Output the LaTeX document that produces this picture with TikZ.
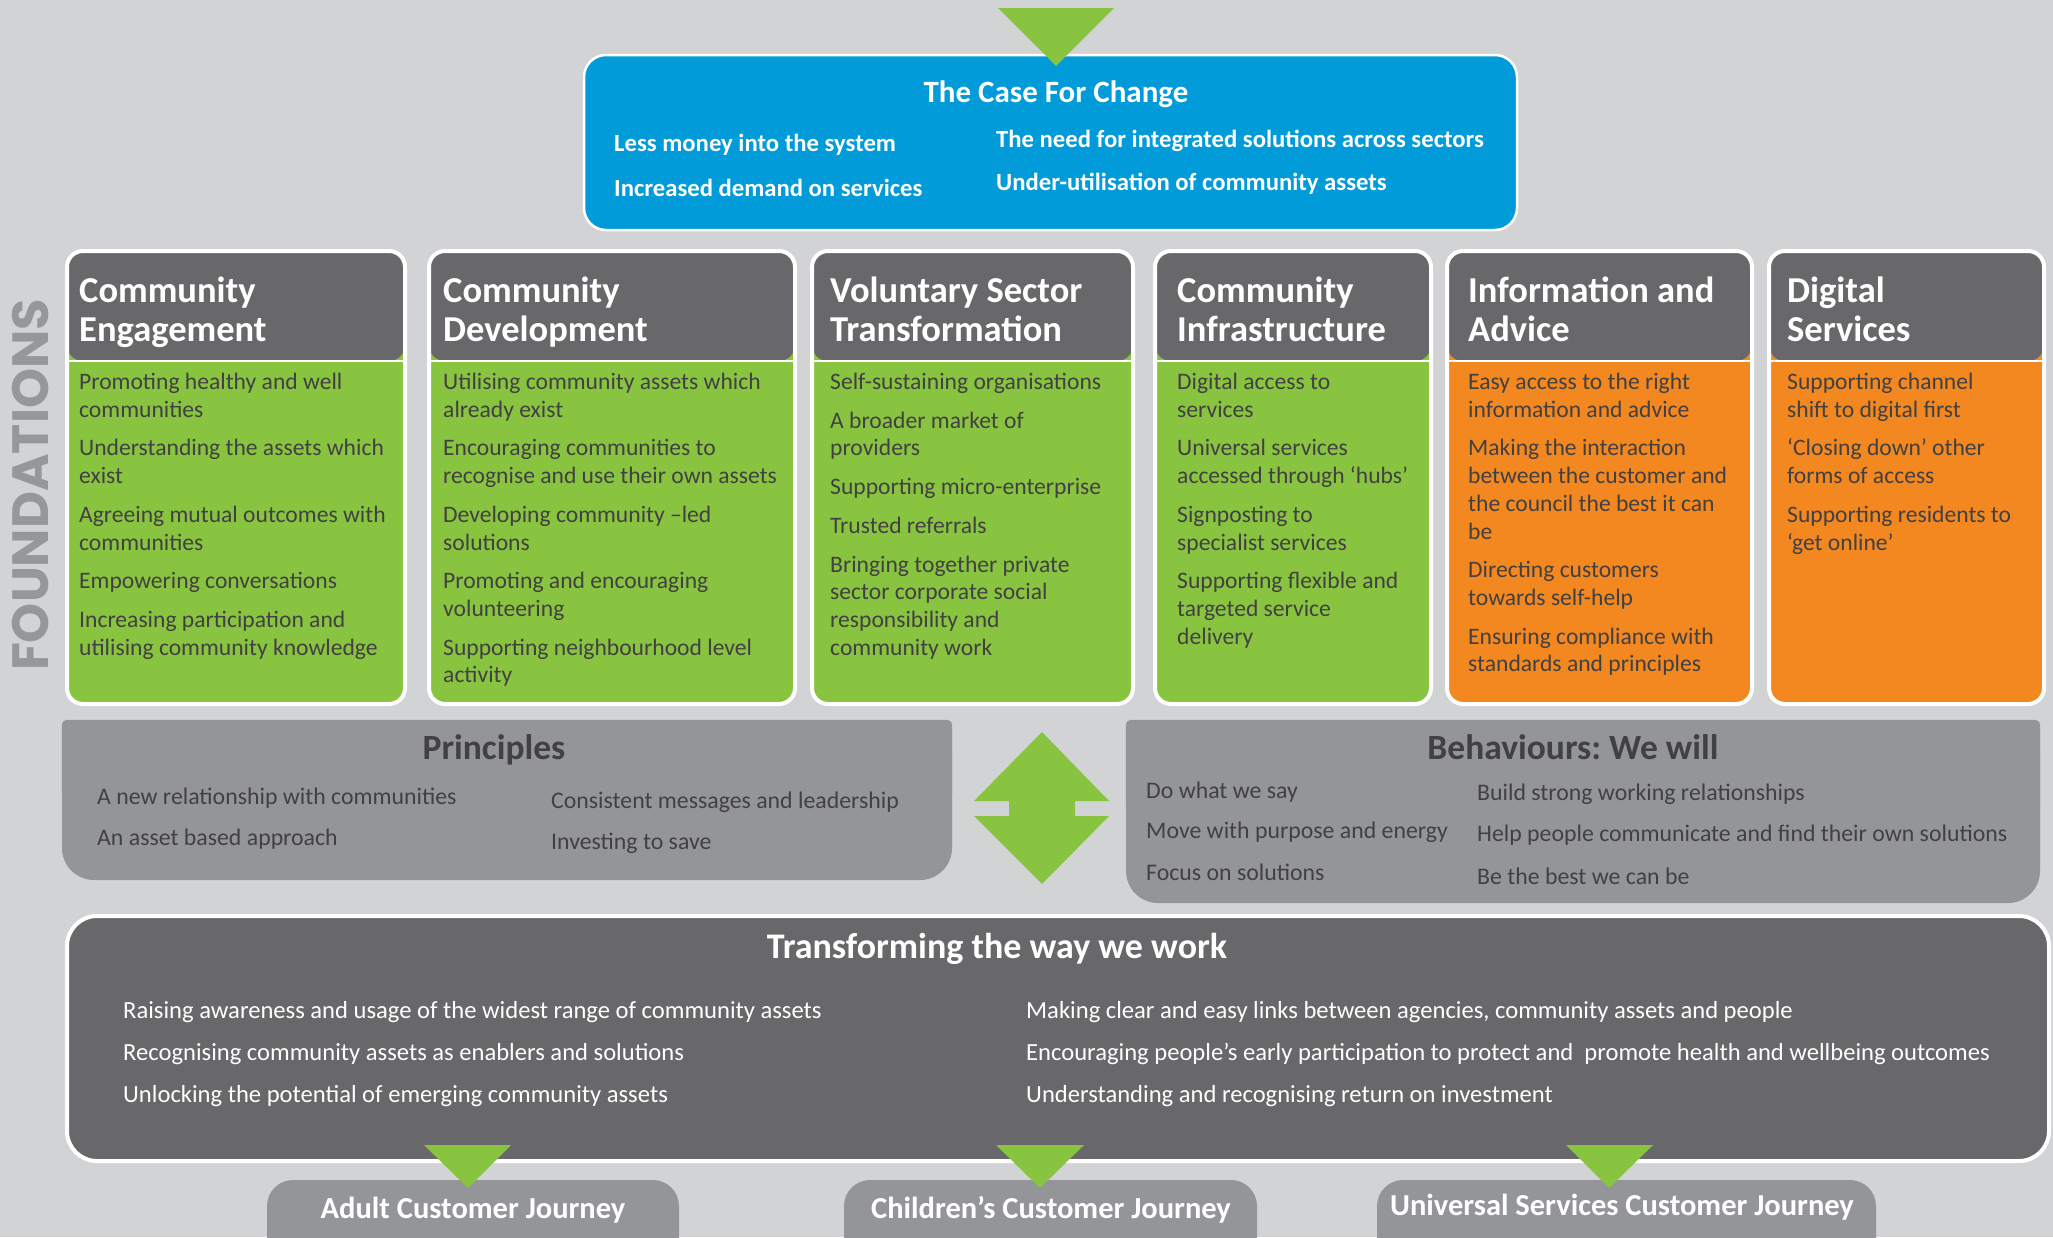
\documentclass[tikz,border=0pt]{standalone}
\usepackage{fontspec}
\setmainfont{Carlito}
\newfontfamily\foundfont{Poppins}
\usepackage{xcolor}
\usepackage{tikz}
\definecolor{bgGray}{RGB}{209,211,212}
\definecolor{caseBlue}{RGB}{0,155,216}
\definecolor{leafGreen}{RGB}{137,196,64}
\definecolor{adviceOrange}{RGB}{243,135,32}
\definecolor{headGray}{RGB}{104,104,106}
\definecolor{panelGray}{RGB}{148,149,153}
\definecolor{inkGray}{RGB}{65,64,66}
\definecolor{foundGray}{RGB}{150,151,154}

\begin{document}
\begin{tikzpicture}[x=1pt, y=-1pt,
    colbox/.style={rectangle, rounded corners=16pt, draw=white, line width=4pt, minimum height=453pt, inner sep=0,
        path picture={\fill[headGray] (path picture bounding box.north west) rectangle ([yshift=-110pt]path picture bounding box.north east);
            \draw[white, line width=2.5pt] ([yshift=-110pt]path picture bounding box.north west) -- ([yshift=-110pt]path picture bounding box.north east);}},
    headtext/.style={anchor=north west, inner sep=0, align=left, text=white, font=\fontsize{36.5}{39}\selectfont\bfseries},
    itemtext/.style={anchor=north west, inner sep=0, align=left, text=inkGray, font=\fontsize{23.6}{27.7}\selectfont},
    casetext/.style={anchor=west, inner sep=0, text=white, font=\fontsize{24.7}{28}\selectfont\bfseries},
    paneltitle/.style={inner sep=0, font=\fontsize{35.5}{40}\selectfont\bfseries},
    paneltext/.style={anchor=west, inner sep=0, text=inkGray, font=\fontsize{23.8}{27}\selectfont},
    worktext/.style={anchor=west, inner sep=0, text=white, font=\fontsize{24.6}{28}\selectfont},
    journeybox/.style={rectangle, rounded corners=26pt, fill=panelGray, minimum height=120pt, inner sep=0},
    journeytext/.style={inner sep=0, text=white, font=\fontsize{30.5}{34}\selectfont\bfseries},
    pointer/.style={fill=leafGreen}
]

\fill[bgGray] (0,0) rectangle (2053,1237);
\useasboundingbox (0,0) rectangle (2053,1237);
\clip (0,0) rectangle (2053,1237);

% Case for change
\node[rectangle, rounded corners=22pt, fill=caseBlue, draw=white, line width=2.5pt, minimum width=933pt, minimum height=175pt] (case) at (1050.5,142.5) {};
\fill[pointer] (998,8) -- (1114,8) -- (1056,66) -- cycle;
\node[paneltitle, text=white, font=\fontsize{31}{34}\selectfont\bfseries] (caseTitle) at (1056,94) {The Case For Change};
\node[casetext] (caseMoney) at (614,145) {Less money into the system};
\node[casetext] (caseDemand) at (614,188) {Increased demand on services};
\node[casetext] (caseNeed) at (996,141) {The need for integrated solutions across sectors};
\node[casetext] (caseUnder) at (996,184) {Under-utilisation of community assets};

\node[text=foundGray, rotate=90, inner sep=0, font={\foundfont\bfseries\fontsize{51}{51}\selectfont}] (found) at (30.5,485) {FOUNDATIONS};

% Six foundation columns
\node[colbox, fill=leafGreen, minimum width=338pt] (engage) at (236,477.5) {};
\node[headtext] (engageHead) at (79,277) {Community\\Engagement};
\node[itemtext] (engageItems) at (79,373) {Promoting healthy and well\\communities\\[11pt]Understanding the assets which\\exist\\[11pt]Agreeing mutual outcomes with\\communities\\[11pt]Empowering conversations\\[11pt]Increasing participation and\\utilising community knowledge};

\node[colbox, fill=leafGreen, minimum width=366pt] (develop) at (612,477.5) {};
\node[headtext] (developHead) at (443,277) {Community\\Development};
\node[itemtext] (developItems) at (443,373) {Utilising community assets which\\already exist\\[11pt]Encouraging communities to\\recognise and use their own assets\\[11pt]Developing community –led\\solutions\\[11pt]Promoting and encouraging\\volunteering\\[11pt]Supporting neighbourhood level\\activity};

\node[colbox, fill=leafGreen, minimum width=321pt] (voluntary) at (972.5,477.5) {};
\node[headtext] (voluntaryHead) at (830,277) {Voluntary Sector\\Transformation};
\node[itemtext] (voluntaryItems) at (830,373) {Self-sustaining organisations\\[11pt]A broader market of\\providers\\[11pt]Supporting micro-enterprise\\[11pt]Trusted referrals\\[11pt]Bringing together private\\sector corporate social\\responsibility and\\community work};

\node[colbox, fill=leafGreen, minimum width=276pt] (infra) at (1293,477.5) {};
\node[headtext] (infraHead) at (1177,277) {Community\\Infrastructure};
\node[itemtext] (infraItems) at (1177,373) {Digital access to\\services\\[11pt]Universal services\\accessed through ‘hubs’\\[11pt]Signposting to\\specialist services\\[11pt]Supporting flexible and\\targeted service\\delivery};

\node[colbox, fill=adviceOrange, minimum width=305pt] (advice) at (1599.5,477.5) {};
\node[headtext] (adviceHead) at (1468,277) {Information and\\Advice};
\node[itemtext] (adviceItems) at (1468,373) {Easy access to the right\\information and advice\\[11pt]Making the interaction\\between the customer and\\the council the best it can\\be\\[11pt]Directing customers\\towards self-help\\[11pt]Ensuring compliance with\\standards and principles};

\node[colbox, fill=adviceOrange, minimum width=275pt] (digital) at (1906.5,477.5) {};
\node[headtext] (digitalHead) at (1787,277) {Digital\\Services};
\node[itemtext] (digitalItems) at (1787,373) {Supporting channel\\shift to digital first\\[11pt]‘Closing down’ other\\forms of access\\[11pt]Supporting residents to\\‘get online’};

% Principles and behaviours
\node[rectangle, rounded corners=32pt, fill=panelGray, minimum width=890pt, minimum height=160pt] (principles) at (507,800) {};
\fill[panelGray, rounded corners=5pt] (principles.north west) rectangle (principles.east);
\node[paneltitle, text=inkGray] (prinTitle) at (494,750) {Principles};
\node[paneltext] (prinRelation) at (97,798) {A new relationship with communities};
\node[paneltext] (prinAsset) at (97,839) {An asset based approach};
\node[paneltext] (prinMessage) at (551,802) {Consistent messages and leadership};
\node[paneltext] (prinInvest) at (551,843) {Investing to save};

\node[rectangle, rounded corners=32pt, fill=panelGray, minimum width=914pt, minimum height=183pt] (behaviours) at (1583,811.5) {};
\fill[panelGray, rounded corners=5pt] (behaviours.north west) rectangle (behaviours.east);
\node[paneltitle, text=inkGray] (behTitle) at (1573,747) {Behaviours:\ We will};
\node[paneltext] (behSay) at (1146,792) {Do what we say};
\node[paneltext] (behMove) at (1146,832) {Move with purpose and energy};
\node[paneltext] (behFocus) at (1146,872) {Focus on solutions};
\node[paneltext] (behBuild) at (1477,794) {Build strong working relationships};
\node[paneltext] (behHelp) at (1477,835) {Help people communicate and find their own solutions};
\node[paneltext] (behBest) at (1477,876) {Be the best we can be};

\fill[pointer] (1042,732) -- (1109,801) -- (1075,801) -- (1075,816) -- (1109,816) -- (1042,884)
    -- (974,816) -- (1009,816) -- (1009,801) -- (974,801) -- cycle;

% Transforming the way we work
\node[rectangle, rounded corners=30pt, fill=headGray, draw=white, line width=4pt, minimum width=1982pt, minimum height=245pt] (transform) at (1058,1038.5) {};
\node[paneltitle, text=white, font=\fontsize{36}{40}\selectfont\bfseries] (workTitle) at (997,949) {Transforming the way we work};
\node[worktext] (workRaise) at (123,1012) {Raising awareness and usage of the widest range of community assets};
\node[worktext] (workRecog) at (123,1054) {Recognising community assets as enablers and solutions};
\node[worktext] (workUnlock) at (123,1096) {Unlocking the potential of emerging community assets};
\node[worktext] (workLinks) at (1026,1012) {Making clear and easy links between agencies, community assets and people};
\node[worktext] (workEarly) at (1026,1054) {Encouraging people’s early participation to protect and\ \ promote health and wellbeing outcomes};
\node[worktext] (workReturn) at (1026,1096) {Understanding and recognising return on investment};

% Customer journeys
\node[journeybox, minimum width=412pt] (adult) at (473,1240) {};
\node[journeybox, minimum width=413pt] (children) at (1050.5,1240) {};
\node[journeybox, minimum width=499pt] (universal) at (1626.5,1240) {};
\node[journeytext] (adultText) at (473,1210) {Adult Customer Journey};
\node[journeytext] (childrenText) at (1051,1210) {Children’s Customer Journey};
\node[journeytext] (universalText) at (1622,1207) {Universal Services Customer Journey};

\fill[pointer] (424,1145) -- (511,1145) -- (468,1188) -- cycle;
\fill[pointer] (996,1145) -- (1084,1145) -- (1040,1188) -- cycle;
\fill[pointer] (1566,1145) -- (1653,1145) -- (1609,1188) -- cycle;

\end{tikzpicture}
\end{document}
